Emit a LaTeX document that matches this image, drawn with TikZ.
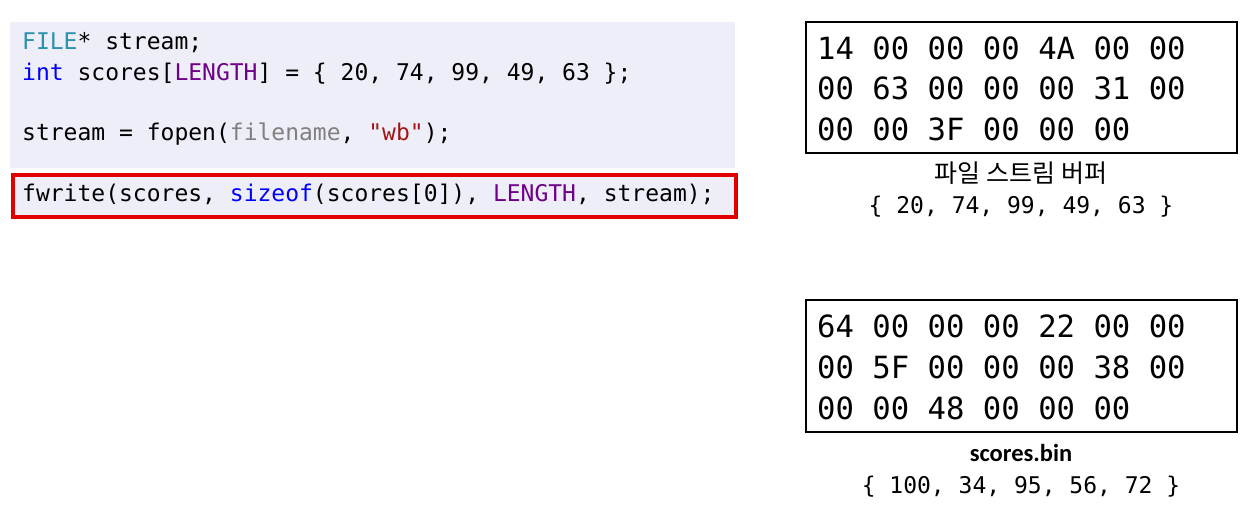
\documentclass[tikz,border=0pt]{standalone}
\usepackage{fontspec}
\setmainfont{Noto Sans}
\setmonofont{DejaVu Sans Mono}
\newfontfamily\kofont{Noto Sans CJK KR}
\newfontfamily\capfont{Carlito}
\definecolor{codebg}{HTML}{EEEEF8}
\definecolor{ctype}{HTML}{2B91AF}
\definecolor{ckw}{HTML}{0000FF}
\definecolor{cmac}{HTML}{6F008A}
\definecolor{cgray}{HTML}{808080}
\definecolor{cstr}{HTML}{A31515}
\definecolor{hlred}{HTML}{E00000}
\begin{document}
\begin{tikzpicture}[x=1pt,y=-1pt,
  codeline/.style={anchor=west,inner sep=0pt,font=\fontsize{23}{23}\selectfont\ttfamily},
  hexline/.style={anchor=west,inner sep=0pt,font=\fontsize{30.6}{30.6}\selectfont\ttfamily},
  hexbox/.style={draw=black,line width=1.3pt,fill=white},
  caption/.style={inner sep=0pt,font=\fontsize{23}{23}\selectfont\ttfamily}]
\useasboundingbox (0,0) rectangle (1254,519);
\fill[white] (0,0) rectangle (1254,519);
% code panel
\fill[codebg] (10,22) rectangle (735,168);
\node[draw=hlred,line width=3.5pt,fill=codebg,minimum width=723pt,minimum height=42pt,anchor=north west,inner sep=0pt] (hl) at (11,173) {};
\node[codeline] (c1) at (22,43) {\textcolor{ctype}{FILE}* stream;};
\node[codeline] (c2) at (22,74) {\textcolor{ckw}{int} scores[\textcolor{cmac}{LENGTH}] = \{ 20, 74, 99, 49, 63 \};};
\node[codeline] (c3) at (22,134) {stream = fopen(\textcolor{cgray}{filename}, \textcolor{cstr}{"wb"});};
\node[codeline] (c4) at (22,194) {fwrite(scores, \textcolor{ckw}{sizeof}(scores[0]), \textcolor{cmac}{LENGTH}, stream);};
% buffer box
\draw[hexbox] (806,22) rectangle (1237,153);
\node[hexline] (b1) at (817,48) {14 00 00 00 4A 00 00};
\node[hexline] (b2) at (817,88) {00 63 00 00 00 31 00};
\node[hexline] (b3) at (817,129) {00 00 3F 00 00 00};
\node[inner sep=0pt,font=\kofont\fontsize{25}{25}\selectfont] (bl) at (1021,173) {파일 스트림 버퍼};
\node[caption] (bv) at (1021,207) {\{ 20, 74, 99, 49, 63 \}};
% file box
\draw[hexbox] (806,300) rectangle (1237,432);
\node[hexline] (f1) at (817,326) {64 00 00 00 22 00 00};
\node[hexline] (f2) at (817,367) {00 5F 00 00 00 38 00};
\node[hexline] (f3) at (817,408) {00 00 48 00 00 00};
\node[inner sep=0pt,font=\capfont\bfseries\fontsize{24.5}{24.5}\selectfont] (fl) at (1021,453) {scores.bin};
\node[caption] (fv) at (1021,487) {\{ 100, 34, 95, 56, 72 \}};
\end{tikzpicture}
\end{document}
